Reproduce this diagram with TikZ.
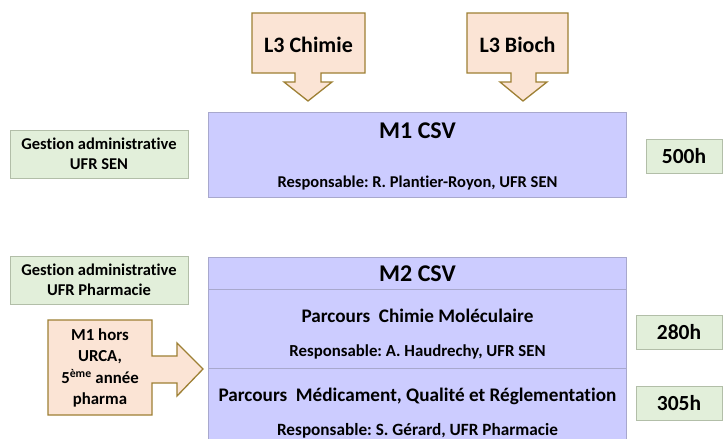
\documentclass[tikz,border=0pt]{standalone}
\usepackage{fontspec}
\setmainfont{Carlito}[Ligatures=NoCommon]
\usepackage{xcolor}
\definecolor{csvfill}{RGB}{204,204,255}
\definecolor{csvline}{RGB}{168,168,205}
\definecolor{gestfill}{RGB}{226,239,218}
\definecolor{gestline}{RGB}{178,190,168}
\definecolor{entryfill}{RGB}{251,228,213}
\definecolor{entryline}{RGB}{158,128,52}
\frenchspacing
\begin{document}
\begin{tikzpicture}[x=1pt, y=-1pt,
  every node/.style={inner sep=0pt, font=\bfseries},
  csvbox/.style={draw=csvline, fill=csvfill, line width=0.8pt, minimum width=418pt},
  gestbox/.style={draw=gestline, fill=gestfill, line width=0.7pt, align=center,
    minimum width=178pt, minimum height=48pt, font=\bfseries\fontsize{16.5}{20}\selectfont},
  hourbox/.style={draw=gestline, fill=gestfill, line width=0.7pt,
    minimum height=34pt, font=\bfseries\fontsize{21.5}{22}\selectfont},
  entry/.style={draw=entryline, fill=entryfill, line width=1.3pt, line join=miter}]
  \clip (0,0) rectangle (723,439);
  \fill[white] (0,0) rectangle (723,439);

  % Entry arrows
  \draw[entry] (252,13) -- (365,13) -- (365,73) -- (321,73) -- (321,82) -- (332,82)
    -- (308,101) -- (284,82) -- (295,82) -- (295,73) -- (252,73) -- cycle;
  \draw[entry] (467,13) -- (568,13) -- (568,73) -- (536,73) -- (536,82) -- (547,82)
    -- (523,101) -- (500,82) -- (511,82) -- (511,73) -- (467,73) -- cycle;
  \draw[entry] (48,320) -- (152,320) -- (152,356) -- (177,356) -- (177,343)
    -- (203,369) -- (177,396) -- (177,383) -- (152,383) -- (152,415) -- (48,415) -- cycle;
  \node[font=\bfseries\fontsize{22}{23}\selectfont] (l3chim) at (308.5,45) {L3 Chimie};
  \node[font=\bfseries\fontsize{22}{23}\selectfont] (l3bio) at (517.5,45) {L3 Bioch};
  \node[align=center, font=\bfseries\fontsize{16.8}{21.5}\selectfont] (hors) at (100,368)
    {M1 hors\\URCA,\\5\textsuperscript{ème} année\\pharma};

  % M1
  \node[csvbox, minimum height=85pt] (m1) at (417.5,154.5) {};
  \node[font=\bfseries\fontsize{24}{26}\selectfont] (m1title) at (417.5,131) {M1 CSV};
  \node[font=\bfseries\fontsize{16.5}{18}\selectfont] (m1resp) at (417.5,183) {Responsable: R. Plantier-Royon, UFR SEN};
  \node[gestbox] (gest1) at (99,154) {Gestion administrative\\UFR SEN};
  \node[hourbox, minimum width=76pt] (h500) at (684,156) {500h};

  % M2
  \node[csvbox, minimum height=32pt] (m2) at (417.5,273) {};
  \node[font=\bfseries\fontsize{24}{26}\selectfont] (m2title) at (417.5,273.5) {M2 CSV};
  \node[csvbox, minimum height=79pt] (chim) at (417.5,328.5) {};
  \node[font=\bfseries\fontsize{19.2}{21}\selectfont] (chimtitle) at (417.5,316) {Parcours~ Chimie Moléculaire};
  \node[font=\bfseries\fontsize{16.8}{18}\selectfont] (chimresp) at (417.5,352) {Responsable: A. Haudrechy, UFR SEN};
  \node[csvbox, minimum height=80pt] (med) at (417.5,408) {};
  \node[font=\bfseries\fontsize{19.2}{21}\selectfont] (medtitle) at (417.5,396) {Parcours~ Médicament, Qualité et Réglementation};
  \node[font=\bfseries\fontsize{17.2}{18}\selectfont] (medresp) at (417.5,431) {Responsable: S. Gérard, UFR Pharmacie};
  \node[gestbox] (gest2) at (99,280) {Gestion administrative\\UFR Pharmacie};
  \node[hourbox, minimum width=86pt] (h280) at (679,332.5) {280h};
  \node[hourbox, minimum width=86pt] (h305) at (679,403.5) {305h};
\end{tikzpicture}
\end{document}
